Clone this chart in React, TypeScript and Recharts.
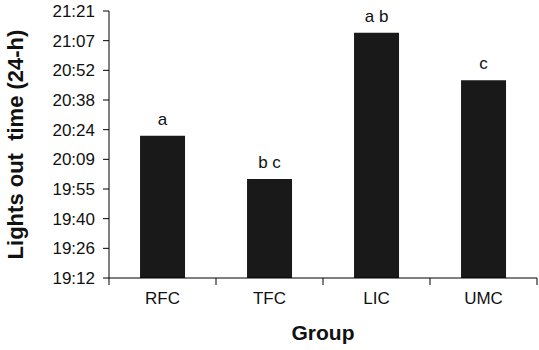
import { BarChart, Bar, XAxis, YAxis, LabelList, Label } from 'recharts';

// Group names, mean lights-out times (24-h clock) and significance letters
const GROUPS = ['RFC', 'TFC', 'LIC', 'UMC'];
const LIGHTS_OUT = ['20:21', '20:00', '21:11', '20:48'];
const LETTERS = ['a', 'b c', 'a b', 'c'];

// y axis runs 19:12 .. 21:21 in steps of 0.01 day (14.4 min)
const Y_TICKS_MIN = [1152, 1166.4, 1180.8, 1195.2, 1209.6, 1224, 1238.4, 1252.8, 1267.2, 1281.6];

const toMinutes = (s: string) => {
    const [h, m] = s.split(':').map(Number);
    return h * 60 + m;
};

const fmtTime = (v: number) => {
    const total = Math.floor(v + 1e-6);
    const h = Math.floor(total / 60);
    const m = total % 60;
    return `${h}:${m < 10 ? '0' + m : m}`;
};

const data = GROUPS.map((g, i) => ({
    group: g,
    time: toMinutes(LIGHTS_OUT[i]),
    sig: LETTERS[i],
}));

const FONT = 'Liberation Sans, Arial, sans-serif';
const W = 539;
const H = 350;
const MARGIN = { top: 11, right: 2, left: 0, bottom: 27 };
const Y_AXIS_W = 109;
const BAND = (W - Y_AXIS_W - MARGIN.left - MARGIN.right) / GROUPS.length;

// category tick: label in the middle, tick marks on the category edges (Excel style)
const GroupTick = ({ x, y, payload, index }: any) => (
    <g>
        <line x1={x - BAND / 2} x2={x - BAND / 2} y1={y} y2={y + 7} stroke="#000" />
        {index === GROUPS.length - 1 && (
            <line x1={x + BAND / 2} x2={x + BAND / 2} y1={y} y2={y + 7} stroke="#000" />
        )}
        <text x={x} y={y + 14} dy="0.71em" textAnchor="middle" fill="#111" fontSize={17} fontFamily={FONT}>
            {payload.value}
        </text>
    </g>
);

export default function App() {
    return (
        <div style={{ position: 'absolute', left: 0, top: 0, width: W, height: H, background: '#fff', fontFamily: FONT }}>
            <BarChart width={W} height={H} data={data} margin={MARGIN} barCategoryGap="29%">
                <XAxis
                    dataKey="group"
                    tickLine={false}
                    tickSize={0}
                    tickMargin={0}
                    height={45}
                    interval={0}
                    axisLine={{ stroke: '#000', strokeWidth: 1 }}
                    tick={<GroupTick />}
                >
                    <Label
                        value="Group"
                        position="insideBottom"
                        offset={-17}
                        style={{ fill: '#111', fontSize: 21, fontWeight: 'bold', fontFamily: FONT }}
                    />
                </XAxis>
                <YAxis
                    width={Y_AXIS_W}
                    domain={[Y_TICKS_MIN[0], Y_TICKS_MIN[Y_TICKS_MIN.length - 1]]}
                    ticks={Y_TICKS_MIN}
                    tickFormatter={fmtTime}
                    allowDataOverflow
                    interval={0}
                    tickSize={6}
                    tickMargin={8}
                    axisLine={{ stroke: '#000', strokeWidth: 1 }}
                    tickLine={{ stroke: '#000', strokeWidth: 1 }}
                    tick={{ fill: '#111', fontSize: 17, fontFamily: FONT }}
                >
                    <Label
                        value={'Lights out\u00a0\u00a0time (24-h)'}
                        angle={-90}
                        position="insideLeft"
                        offset={0}
                        dx={15}
                        style={{ fill: '#111', fontSize: 22, fontWeight: 'bold', fontFamily: FONT, textAnchor: 'middle' }}
                    />
                </YAxis>
                <Bar dataKey="time" fill="#191919" isAnimationActive={false}>
                    <LabelList
                        dataKey="sig"
                        position="top"
                        offset={11}
                        style={{ fill: '#111', fontSize: 17, fontFamily: FONT }}
                    />
                </Bar>
            </BarChart>
        </div>
    );
}
